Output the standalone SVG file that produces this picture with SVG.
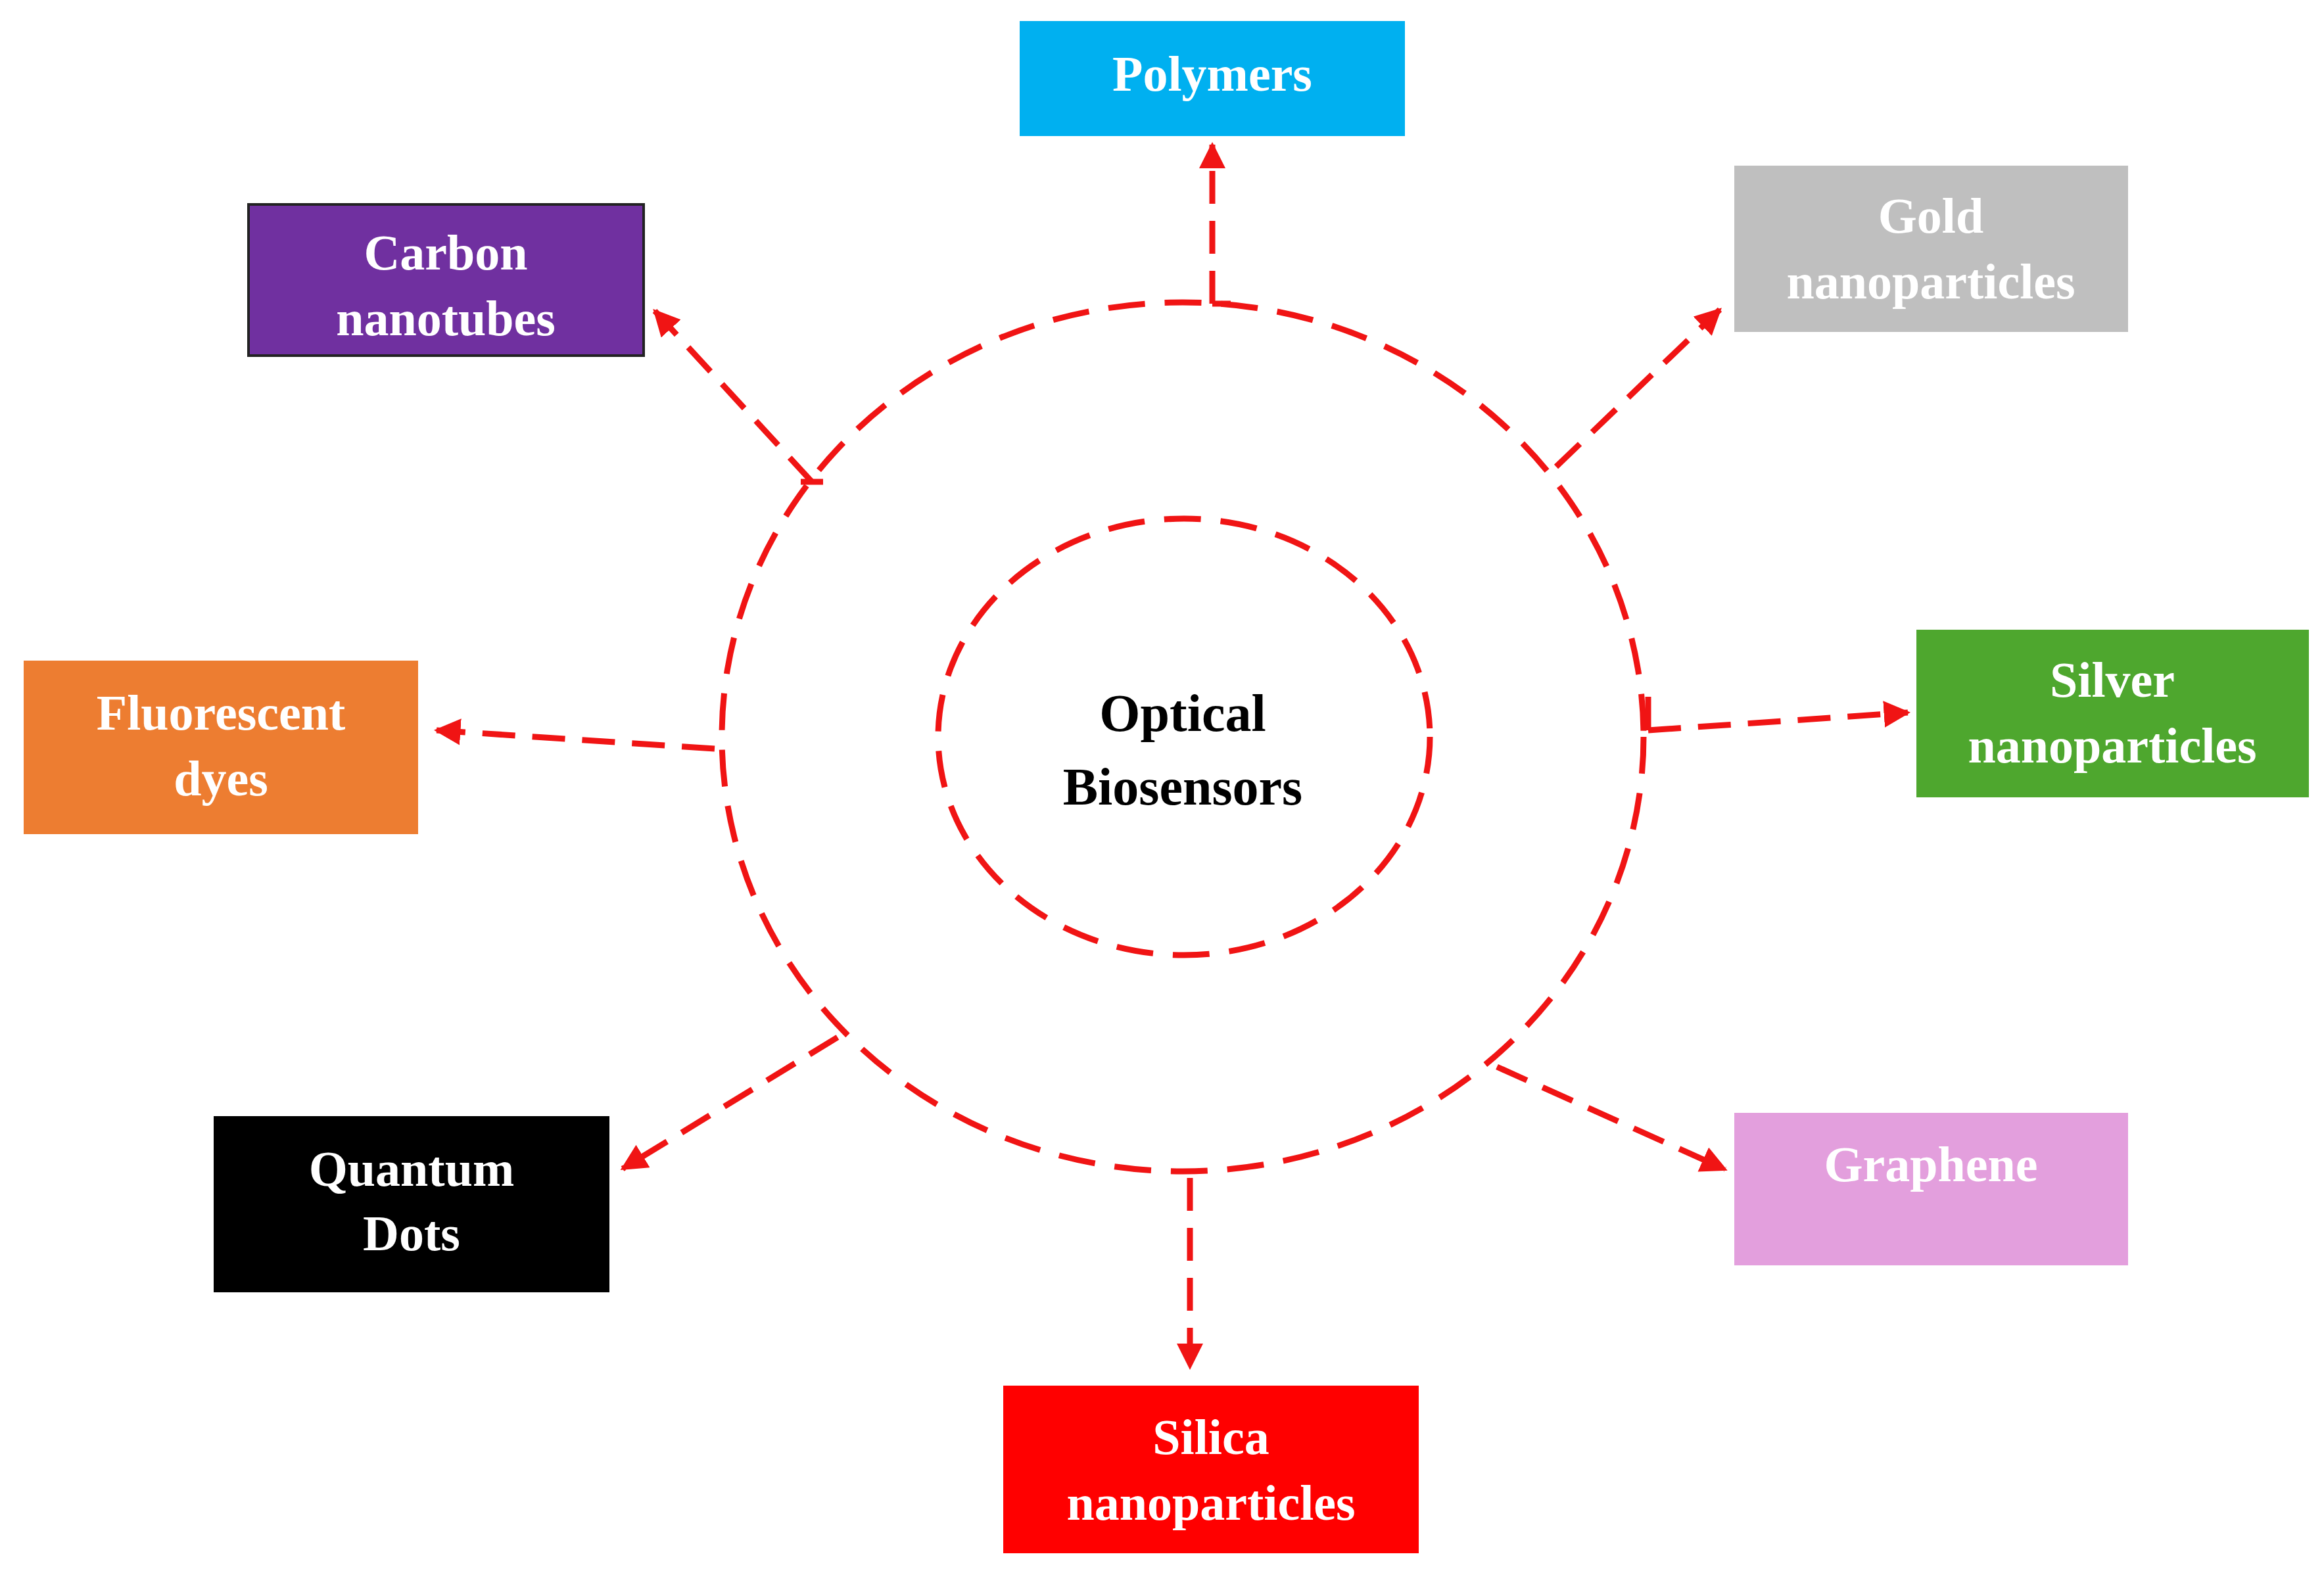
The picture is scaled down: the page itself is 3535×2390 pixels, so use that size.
<svg xmlns="http://www.w3.org/2000/svg" width="3535" height="2390" viewBox="0 0 3535 2390">
<style>
.lbl{font-family:"Liberation Serif","Times New Roman",serif;font-weight:bold;font-size:76px;fill:#fff;text-anchor:middle}
.ring{fill:none;stroke:#f01414;stroke-width:9;stroke-dasharray:56 30}
.con{fill:none;stroke:#f01414;stroke-width:9;stroke-dasharray:50 26}
</style>
<defs>
<marker id="ah" viewBox="0 0 10 10" refX="9" refY="5" markerWidth="4.5" markerHeight="4.5" orient="auto" markerUnits="strokeWidth">
<path d="M0,0 L10,5 L0,10 Z" fill="#f01414"/>
</marker>
</defs>
<rect width="3535" height="2390" fill="#fff"/>
<g id="center">
<ellipse class="ring" cx="1799" cy="1121" rx="701" ry="661"/>
<ellipse class="ring" cx="1801" cy="1121" rx="374" ry="332"/>
<text x="1799" y="1112" font-family="Liberation Serif,serif" font-weight="bold" font-size="80" text-anchor="middle" fill="#000">Optical</text>
<text x="1799" y="1224" font-family="Liberation Serif,serif" font-weight="bold" font-size="80" text-anchor="middle" fill="#000">Biosensors</text>
</g>
<g id="connectors">
<path class="con" d="M1844,462 L1844,220" marker-end="url(#ah)"/>
<path d="M1844,462 L1872,462" stroke="#f01414" stroke-width="9"/>
<path class="con" d="M2367,710 L2616,471" marker-end="url(#ah)"/>
<path class="con" d="M1235,733 L996,473" marker-end="url(#ah)"/>
<path d="M1218,733 L1252,733" stroke="#f01414" stroke-width="9"/>
<path class="con" d="M1087,1139 L664,1111" marker-end="url(#ah)"/>
<path class="con" d="M2507,1111 L2902,1084" marker-end="url(#ah)"/>
<path d="M2507,1060 L2507,1111" stroke="#f01414" stroke-width="9"/>
<path class="con" d="M1274,1578 L947,1778" marker-end="url(#ah)"/>
<path class="con" d="M2277,1623 L2624,1779" marker-end="url(#ah)"/>
<path class="con" d="M1810,1792 L1810,2080" marker-end="url(#ah)"/>
</g>
<g id="polymers"><rect x="1551" y="32" width="586" height="175" fill="#00b0f0"/><text class="lbl" x="1844" y="138">Polymers</text></g>
<g id="gold"><rect x="2638" y="252" width="599" height="253" fill="#bfbfbf"/><text class="lbl" x="2937" y="354">Gold</text><text class="lbl" x="2937" y="454">nanoparticles</text></g>
<g id="carbon"><rect x="378" y="311" width="601" height="230" fill="#7030a0" stroke="#222" stroke-width="4"/><text class="lbl" x="678" y="410">Carbon</text><text class="lbl" x="678" y="510">nanotubes</text></g>
<g id="fluorescent"><rect x="36" y="1005" width="600" height="264" fill="#ed7d31"/><text class="lbl" x="336" y="1110">Fluorescent</text><text class="lbl" x="336" y="1210">dyes</text></g>
<g id="silver"><rect x="2915" y="958" width="597" height="255" fill="#4ea72e"/><text class="lbl" x="3213" y="1060">Silver</text><text class="lbl" x="3213" y="1160">nanoparticles</text></g>
<g id="quantum"><rect x="325" y="1698" width="602" height="268" fill="#000"/><text class="lbl" x="626" y="1804">Quantum</text><text class="lbl" x="626" y="1902">Dots</text></g>
<g id="graphene"><rect x="2638" y="1693" width="599" height="232" fill="#e39fdd"/><text class="lbl" x="2937" y="1797">Graphene</text></g>
<g id="silica"><rect x="1526" y="2108" width="632" height="255" fill="#ff0000"/><text class="lbl" x="1842" y="2212">Silica</text><text class="lbl" x="1842" y="2312">nanoparticles</text></g>
</svg>
